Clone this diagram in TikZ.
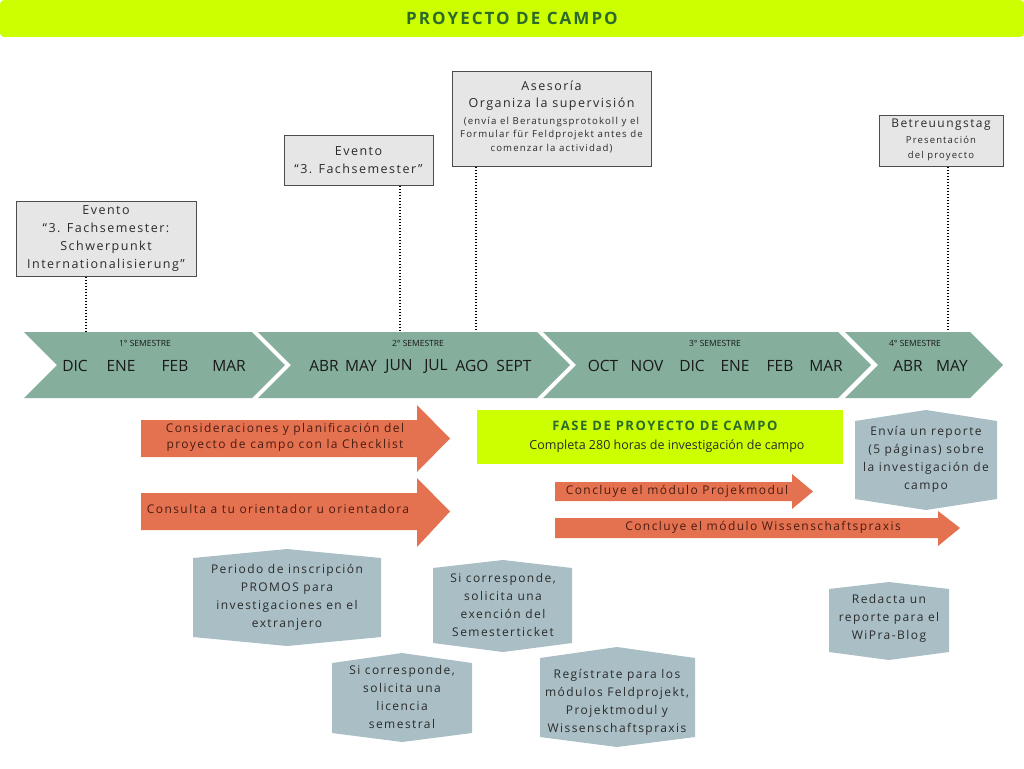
\documentclass[tikz,border=0pt]{standalone}
\usepackage{fontspec}
\setmainfont{Open Sans}
\newfontfamily\spaced[LetterSpace=12]{Open Sans}
\usetikzlibrary{positioning}
\definecolor{limebar}{HTML}{CCFF00}
\definecolor{titlegreen}{HTML}{2C6A2C}
\definecolor{boxgrey}{HTML}{E6E6E6}
\definecolor{boxline}{HTML}{4D4D4D}
\definecolor{chevgreen}{HTML}{85AE9D}
\definecolor{hexblue}{HTML}{A9BEC5}
\definecolor{arroworange}{HTML}{E4714F}
\definecolor{arrowtext}{HTML}{4B1D12}
\definecolor{textdark}{HTML}{2B2B2B}

\begin{document}
\begin{tikzpicture}[x=1pt,y=-1pt,
 greybox/.style={draw=boxline,fill=boxgrey,line width=1pt,align=center,inner sep=0pt,text=textdark,font=\spaced\fontsize{12.5}{18}\selectfont},
 boxsmall/.style={align=center,text=textdark,font=\spaced\fontsize{9.6}{13.5}\selectfont},
 hexa/.style={fill=hexblue},
 hexlabel/.style={align=center,text=textdark,font=\spaced\fontsize{12}{18}\selectfont},
 chev/.style={fill=chevgreen},
 month/.style={text=black!90,font=\fontsize{15.5}{16}\selectfont},
 semlabel/.style={text=black!90,font=\fontsize{8.5}{9}\selectfont},
 orangearrow/.style={fill=arroworange},
 arrowlabel/.style={align=center,text=arrowtext,font=\spaced\fontsize{12}{16}\selectfont},
 tick/.style={line width=1.5pt,dash pattern=on 1.5pt off 1.5pt}]
\useasboundingbox (0,0) rectangle (1024,768);

% title
\node[fill=limebar,rounded corners=4pt,minimum width=1024pt,minimum height=37pt,inner sep=0pt,text=titlegreen,font=\spaced\bfseries\fontsize{17}{18}\selectfont] (title) at (512,18.5) {PROYECTO DE CAMPO};

% events
\node[greybox,minimum width=180pt,minimum height=75pt] (ev1) at (106,238.5) {Evento\\“3. Fachsemester:\\Schwerpunkt\\Internationalisierung”};
\node[greybox,minimum width=149pt,minimum height=50pt] (ev2) at (358.5,160) {Evento\\“3. Fachsemester”};
\node[greybox,minimum width=199pt,minimum height=95pt] (ase) at (551.5,118.5) {};
\node[greybox,draw=none,fill=none,font=\spaced\fontsize{12.5}{17}\selectfont] (asetop) at (551.5,96) {Asesoría\\Organiza la supervisión};
\node[boxsmall] (asesub) at (551.5,135) {(envía el Beratungsprotokoll y el\\Formular für Feldprojekt antes de\\comenzar la actividad)};
\node[greybox,minimum width=124pt,minimum height=51pt] (bet) at (941,140.5) {};
\node[greybox,draw=none,fill=none,font=\spaced\fontsize{12}{17}\selectfont] (bettop) at (941,125) {Betreuungstag};
\node[boxsmall,font=\spaced\fontsize{9.5}{15}\selectfont] (betsub) at (941,148.5) {Presentación\\del proyecto};

\coordinate (t1) at (86,332);
\coordinate (t2) at (400,332);
\coordinate (t3) at (476,332);
\coordinate (t4) at (948,332);
\draw[tick] (ev1.south -| t1) -- (t1);
\draw[tick] (ev2.south -| t2) -- (t2);
\draw[tick] (ase.south -| t3) -- (t3);
\draw[tick] (bet.south -| t4) -- (t4);

% semesters
\fill[chev] (24,332) -- (252,332) -- (285,365) -- (252,398) -- (24,398) -- (57,365) -- cycle;
\fill[chev] (258,332) -- (537,332) -- (570,365) -- (537,398) -- (258,398) -- (291,365) -- cycle;
\fill[chev] (543,332) -- (838,332) -- (871,365) -- (838,398) -- (543,398) -- (576,365) -- cycle;
\fill[chev] (845,332) -- (970,332) -- (1003,365) -- (970,398) -- (845,398) -- (878,365) -- cycle;
\node[semlabel] (s1) at (145,343) {1° SEMESTRE};
\node[semlabel] (s2) at (418,343) {2° SEMESTRE};
\node[semlabel] (s3) at (715,343) {3° SEMESTRE};
\node[semlabel] (s4) at (915,343) {4° SEMESTRE};
\foreach \m/\x [count=\i] in {DIC/75,ENE/121,FEB/175,MAR/229,ABR/324,MAY/361,JUN/399,JUL/436,AGO/472,SEPT/514,OCT/603,NOV/647,DIC/692,ENE/735,FEB/780,MAR/826,ABR/908,MAY/952}
  \node[month] (m\i) at (\x,366) {\m};

% arrows
\fill[orangearrow] (141,420) -- (417,420) -- (417,405) -- (450,438.5) -- (417,472) -- (417,457) -- (141,457) -- cycle;
\node[arrowlabel] (plan) at (285,437) {Consideraciones y planificación del\\proyecto de campo con la Checklist};
\fill[orangearrow] (141,493) -- (417,493) -- (417,478) -- (450,511.5) -- (417,547) -- (417,530) -- (141,530) -- cycle;
\node[arrowlabel] (cons) at (278,509) {Consulta a tu orientador u orientadora};
\fill[orangearrow] (555,482) -- (792,482) -- (792,474) -- (813,491.5) -- (792,509) -- (792,501) -- (555,501) -- cycle;
\node[arrowlabel] (proj) at (677,491) {Concluye el módulo Projekmodul};
\fill[orangearrow] (555,518) -- (938,518) -- (938,511) -- (960,528) -- (938,546) -- (938,538) -- (555,538) -- cycle;
\node[arrowlabel] (wiss) at (763,527) {Concluye el módulo Wissenschaftspraxis};

% phase
\node[fill=limebar,minimum width=366pt,minimum height=54pt,inner sep=0pt] (fase) at (660,437) {};
\node[text=titlegreen,font=\spaced\bfseries\fontsize{13}{14}\selectfont] (fasetit) at (665,426) {FASE DE PROYECTO DE CAMPO};
\node[text=textdark,font=\fontsize{12.5}{13}\selectfont] (fasetxt) at (667,446) {Completa 280 horas de investigación de campo};

% notes
\fill[hexa] (855,421) -- (926,410) -- (997,421) -- (997,499) -- (926,510) -- (855,499) -- cycle;
\node[hexlabel] (rep) at (926,459) {Envía un reporte\\(5 páginas) sobre\\la investigación de\\campo};
\fill[hexa] (193,558) -- (287,549) -- (381,558) -- (381,637) -- (287,646) -- (193,637) -- cycle;
\node[hexlabel] (promos) at (287,597) {Periodo de inscripción\\PROMOS para\\investigaciones en el\\extranjero};
\fill[hexa] (433,568) -- (503,560) -- (572,568) -- (572,643) -- (503,652) -- (433,643) -- cycle;
\node[hexlabel] (ticket) at (503,605) {Si corresponde,\\solicita una\\exención del\\Semesterticket};
\fill[hexa] (332,663) -- (402,653) -- (472,663) -- (472,733) -- (402,742) -- (332,733) -- cycle;
\node[hexlabel] (lic) at (402,697) {Si corresponde,\\solicita una\\licencia\\semestral};
\fill[hexa] (540,658) -- (617,647) -- (695,658) -- (695,737) -- (617,747) -- (540,737) -- cycle;
\node[hexlabel] (reg) at (617,702) {Regístrate para los\\módulos Feldprojekt,\\Projektmodul y\\Wissenschaftspraxis};
\fill[hexa] (829,589) -- (889,582) -- (949,589) -- (949,652) -- (889,660) -- (829,652) -- cycle;
\node[hexlabel] (blog) at (889,618) {Redacta un\\reporte para el\\WiPra-Blog};
\end{tikzpicture}
\end{document}
